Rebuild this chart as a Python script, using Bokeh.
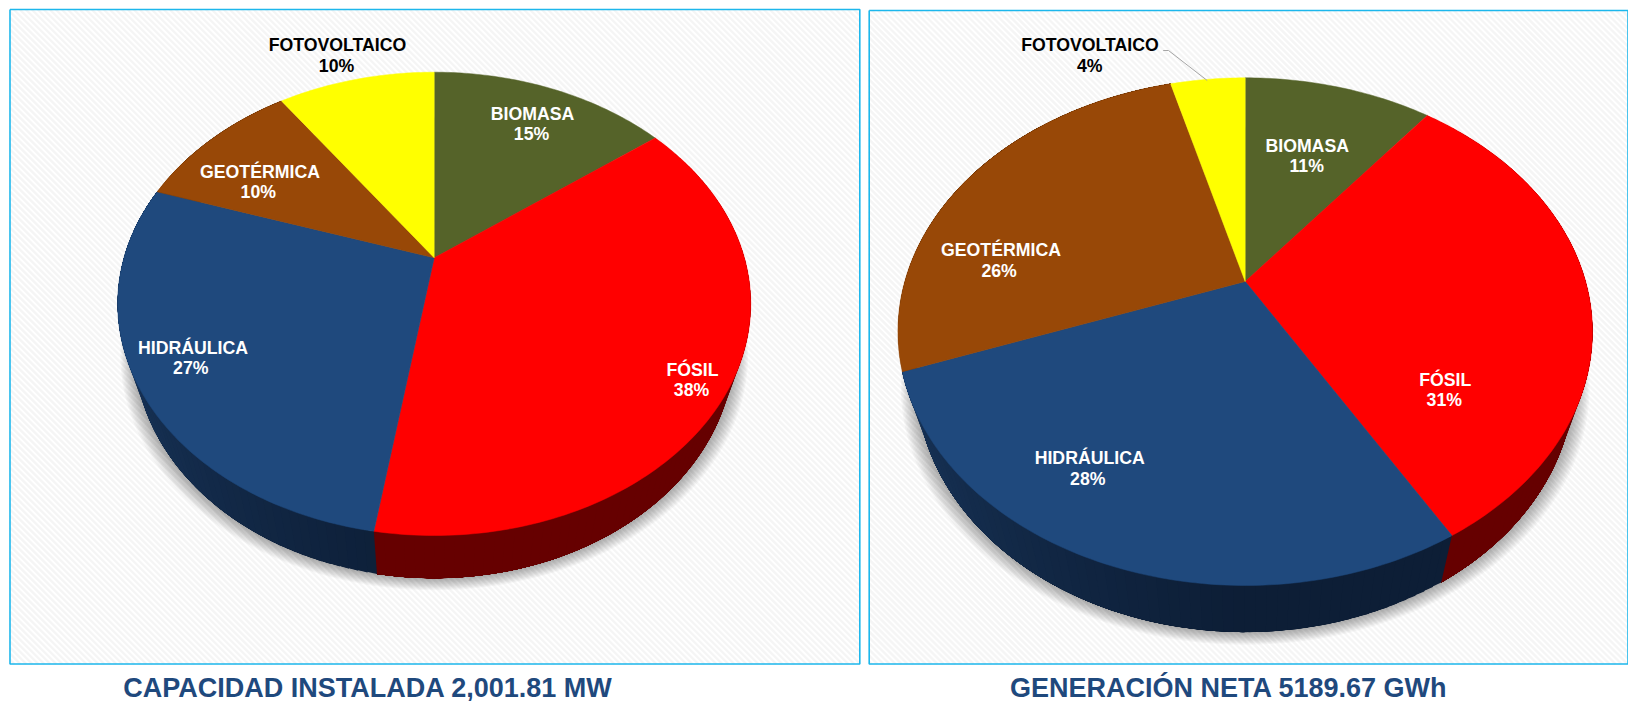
import math
from bokeh.plotting import figure
from bokeh.models import Range1d
from bokeh.core.properties import value
from bokeh.embed import file_html
from bokeh.resources import INLINE

# ---- data ----
categories = ["BIOMASA", "FÓSIL", "HIDRÁULICA", "GEOTÉRMICA", "FOTOVOLTAICO"]
colors = ["#556329", "#FF0000", "#1F497D", "#984807", "#FFFF00"]
capacidad_share = [14.7, 37.8, 27.6, 10.2, 9.7]
capacidad_labels = ["15%", "38%", "27%", "10%", "10%"]
generacion_share = [10.6, 31.0, 27.8, 26.4, 4.2]
generacion_labels = ["11%", "31%", "28%", "26%", "4%"]
titles = ["CAPACIDAD INSTALADA 2,001.81 MW", "GENERACIÓN NETA 5189.67 GWh"]

FONT = value("Liberation Sans")
FRAME = "#1DB7EC"

p = figure(width=1628, height=701, output_backend="svg", toolbar_location=None,
           x_range=Range1d(0, 1628), y_range=Range1d(701, 0),
           margin=(0, 0, 0, 0), min_border=0, background_fill_color="white",
           border_fill_color="white", outline_line_color=None)
p.axis.visible = False
p.grid.visible = False


def panel(xl, yt, xr, yb):
    x0, y0, x1, y1 = [], [], [], []
    c = yt - xr
    while c < yb - xl:
        a = max(xl, yt - c)
        b = min(xr, yb - c)
        if b > a:
            x0.append(a); y0.append(a + c); x1.append(b); y1.append(b + c)
        c += 6.0
    p.segment(x0, y0, x1, y1, line_color="#F5F5F5", line_width=2.4)
    p.line([xl, xr, xr, xl, xl], [yt, yt, yb, yb, yt], line_color=FRAME, line_width=1.6)


def pie3d(shares, cx, cy, A, a, k, sx, sy, dy):
    def top(t):
        s, c = math.sin(t), math.cos(t)
        d = 1 + k * c
        return cx + A * s / d, cy - a * c / d

    def bot(t, gx=sx, gy=sy, off=dy):
        s, c = math.sin(t), math.cos(t)
        d = 1 + k * c
        return cx + gx * A * s / d, cy + off - gy * a * c / d

    # soft shadow under the body
    ts = [math.radians(i) for i in range(0, 360, 2)]
    for i in range(12):
        pts = [bot(t, sx * (1 + 0.0042 * i), sy * (1 + 0.0018 * i), dy + 0.6 * i) for t in ts]
        p.patch([q[0] for q in pts], [q[1] for q in pts], fill_color="#000000",
                fill_alpha=0.03, line_color=None)

    # sides: painted in order, each strip overlapping the next so no seams show
    edges = [0.0]
    for v in shares:
        edges.append(edges[-1] + v)
    for idx, v in enumerate(shares):
        t0, t1 = edges[idx] * 3.6, edges[idx + 1] * 3.6
        n = max(2, int((t1 - t0) / 1.5))
        xs, ys, fc = [], [], []
        for j in range(n):
            u0 = math.radians(t0 + (t1 - t0) * j / n)
            end = math.radians(t1)
            if math.cos(u0) > 0.5 and math.cos(end) > 0.5:
                continue
            poly = [top(u0 + (end - u0) * m / 12) for m in range(13)]
            poly += [bot(end - (end - u0) * m / 12) for m in range(13)]
            xs.append([q[0] for q in poly])
            ys.append([q[1] for q in poly])
            deg = t0 + (t1 - t0) * (j + 0.5) / n
            if idx == 1:
                col = "#660000"
            elif idx == 2:
                f = min(1, max(0, (deg - 180) / 90))
                col = "#%02x%02x%02x" % (int(13 + 14 * f), int(30 + 28 * f), int(54 + 44 * f))
            elif idx == 3:
                col = "#4C2403"
            else:
                col = "#808000"
            fc.append(col)
        if xs:
            p.patches(xs, ys, fill_color=fc, line_color=None)

    # top surface
    xs, ys = [], []
    for idx, v in enumerate(shares):
        t0, t1 = edges[idx] * 3.6, edges[idx + 1] * 3.6
        n = max(4, int(t1 - t0))
        pts = [(cx, cy)] + [top(math.radians(t0 + (t1 - t0) * j / n)) for j in range(n + 1)]
        xs.append([q[0] for q in pts])
        ys.append([q[1] for q in pts])
    p.patches(xs, ys, fill_color=colors, line_color=colors, line_width=0.5)


def labels(names, pcts, name_xy, pct_xy):
    for i, (n, q) in enumerate(zip(names, pcts)):
        col = "#000000" if n == "FOTOVOLTAICO" else "#FFFFFF"
        p.text([name_xy[i][0]], [name_xy[i][1]], text=[n], text_color=col, text_font=FONT,
               text_font_style="bold", text_font_size="17.7px", text_align="center",
               text_baseline="middle")
        p.text([pct_xy[i][0]], [pct_xy[i][1]], text=[q], text_color=col, text_font=FONT,
               text_font_style="bold", text_font_size="17.7px", text_align="center",
               text_baseline="middle")


panel(9.5, 9, 859.3, 663.5)
panel(868.7, 10, 1627.5, 663.5)

pie3d(capacidad_share, 433.7, 257.3, 310.2, 222.5, 0.1988, 0.948, 0.997, 43.5)
pie3d(generacion_share, 1244.7, 281.0, 340.4, 243.9, 0.1976, 0.948, 0.997, 47.6)

p.line([1162.7, 1168, 1206.7], [50, 50, 80], line_color="#A6A6A6", line_width=1)

labels(categories, capacidad_labels,
       [(532, 113.5), (692, 369), (192.5, 347), (259.5, 171), (337, 44.5)],
       [(531, 133.5), (691, 389), (190.3, 367.7), (257.8, 191), (336, 65.7)])
labels(categories, generacion_labels,
       [(1306.7, 145.7), (1444.8, 379), (1089.2, 457.7), (1000.5, 249), (1089.5, 44.3)],
       [(1306.2, 165.7), (1443.8, 399.3), (1087.3, 478.3), (998.6, 270), (1089.2, 65)])

p.text([367.5, 1228.3], [687, 687], text=titles, text_color="#1F497D", text_font=FONT,
       text_font_style="bold", text_font_size="27px", text_align="center",
       text_baseline="middle")

open("out.html", "w").write(file_html(p, INLINE))
